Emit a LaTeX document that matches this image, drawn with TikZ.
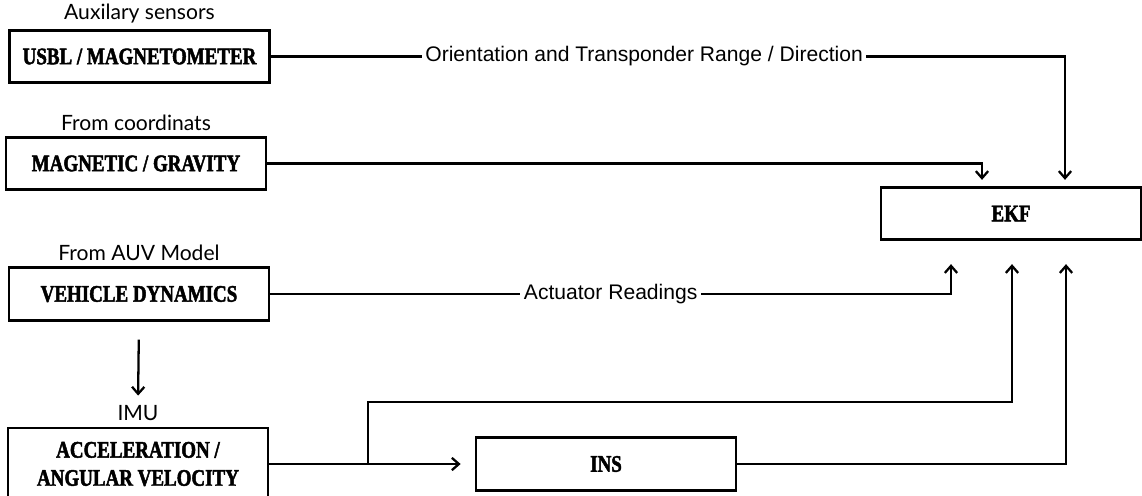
\documentclass[tikz,border=0pt]{standalone}
\usepackage{fontspec}
\setmainfont{Liberation Sans}
\newfontfamily\boxfont[FakeStretch=0.8, BoldFeatures={FakeBold=2}]{Liberation Serif}
\newfontfamily\capfont{Lato}
\usetikzlibrary{arrows.meta,positioning,calc}

\begin{document}
\begin{tikzpicture}[>={Straight Barb[length=4pt,width=7pt]}, x=0.02cm, y=-0.02cm]
\tikzset{BoxStyle/.style = {draw, line width=1.6pt, minimum width=5.2cm,
                            minimum height=1.05cm, inner sep=0pt, align=center,
                            font=\boxfont\bfseries\fontsize{13.5}{16}\selectfont},
         CapStyle/.style = {font=\capfont\fontsize{12}{14}\selectfont, inner sep=1pt},
         LineLabel/.style = {fill=white, font=\fontsize{12}{14}\selectfont,
                             inner xsep=2pt, inner ysep=1pt},
         EdgeStyle/.style = {line width=1.3pt}
  }
\useasboundingbox (0,0) rectangle (1142,495);

\node[BoxStyle] (usbl) at (139.5,56.5) {USBL / MAGNETOMETER};
\node[BoxStyle] (magn) at (136,163.5) {MAGNETIC / GRAVITY};
\node[BoxStyle] (vdyn) at (139,294) {VEHICLE DYNAMICS};
\node[BoxStyle, minimum height=1.44cm] (accel) at (138,464) {ACCELERATION /\\ANGULAR VELOCITY};
\node[BoxStyle] (ekf) at (1011,213.5) {EKF};
\node[BoxStyle] (ins) at (606,464) {INS};
%-----------------------------
\node[CapStyle, above=2pt of usbl] (auxcap) {Auxilary sensors};
\node[CapStyle, above=2pt of magn] (coordcap) {From coordinats};
\node[CapStyle, above=2pt of vdyn] (auvcap) {From AUV Model};
\node[CapStyle, above=2pt of accel] (imucap) {IMU};
%-----------------------------
\draw[EdgeStyle, ->, shorten >=0.12cm] (usbl.east) -| node[LineLabel, pos=0.235]
  {Orientation and Transponder Range / Direction} ([shift={(54,0)}]ekf.north);
\draw[EdgeStyle, ->, shorten >=0.12cm] (magn.east) -| ([shift={(-29,0)}]ekf.north);
\draw[EdgeStyle, ->, shorten >=0.46cm] (vdyn.east) -| node[LineLabel, pos=0.25]
  {Actuator Readings} ([shift={(-60,0)}]ekf.south);
%-----------------------------
\draw[EdgeStyle, ->, shorten <=0.36cm, shorten >=0.16cm] (vdyn.south) -- (imucap.north);
\draw[EdgeStyle, ->, shorten >=0.28cm] (accel.east) -- (ins.west);
\coordinate (tap) at ($(accel.east)!0.48!(ins.west)$);
\draw[EdgeStyle, ->, shorten >=0.46cm] (tap) -- ++(0,-62) -| ([shift={(1,0)}]ekf.south);
\draw[EdgeStyle, ->, shorten >=0.46cm] (ins.east) -| ([shift={(55,0)}]ekf.south);

\end{tikzpicture}
\end{document}
